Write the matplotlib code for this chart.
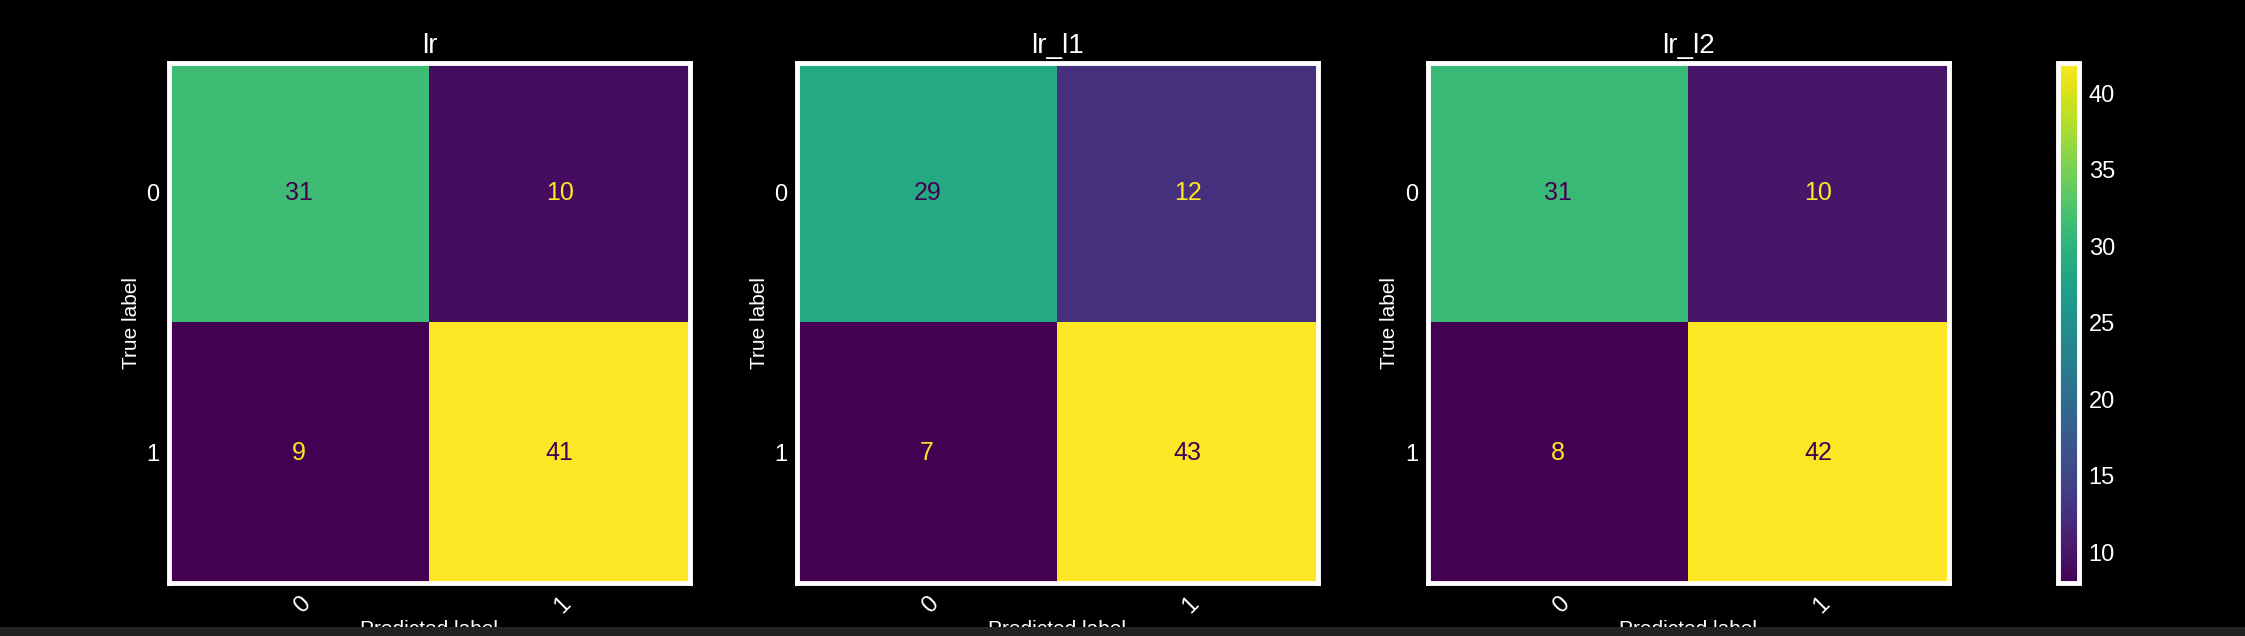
import numpy as np
import matplotlib.pyplot as plt
from matplotlib.patches import Rectangle

# confusion matrices
names = ['lr', 'lr_l1', 'lr_l2']
cm_lr = [[31, 10], [9, 41]]
cm_lr_l1 = [[29, 12], [7, 43]]
cm_lr_l2 = [[31, 10], [8, 42]]
class_labels = ['0', '1']

plt.rcParams['font.family'] = ['Liberation Sans', 'DejaVu Sans']

fig = plt.figure(figsize=(22.45, 6.36), dpi=100, facecolor='black')
cmap = plt.get_cmap('viridis')

lefts = [0.0753, 0.355, 0.636]
im = None
for left, name, cm in zip(lefts, names, [cm_lr, cm_lr_l1, cm_lr_l2]):
    cm = np.array(cm)
    ax = fig.add_axes([left, 0.0833, 0.232, 0.818])
    ax.set_facecolor('black')
    im = ax.imshow(cm, cmap=cmap, interpolation='nearest', aspect='auto')
    vmin, vmax = cm.min(), cm.max()
    thresh = (vmax + vmin) / 2.0
    for i in range(cm.shape[0]):
        for j in range(cm.shape[1]):
            color = cmap(1.0) if cm[i, j] < thresh else cmap(0)
            ax.text(j, i, str(cm[i, j]), ha='center', va='center',
                    color=color, fontsize=18)
    ax.set_xticks(range(len(class_labels)))
    ax.set_yticks(range(len(class_labels)))
    ax.set_xticklabels(class_labels, rotation=45, ha='right',
                       rotation_mode='anchor', fontsize=17)
    ax.set_yticklabels(class_labels, fontsize=17)
    ax.tick_params(color='black', labelcolor='white', length=0, pad=7)
    ax.set_xlabel('Predicted label', color='white', fontsize=15, labelpad=2)
    ax.set_ylabel('True label', color='white', fontsize=15, labelpad=4)
    ax.set_title(name, color='white', fontsize=20, pad=7)
    for sp in ax.spines.values():
        sp.set_color('white')
        sp.set_linewidth(3.5)

cax = fig.add_axes([0.9165, 0.0833, 0.0095, 0.818])
cb = fig.colorbar(im, cax=cax)
cb.outline.set_edgecolor('white')
cb.outline.set_linewidth(3.5)
cb.set_ticks([10, 15, 20, 25, 30, 35, 40])
cb.ax.tick_params(color='black', labelcolor='white', labelsize=17,
                  length=0, pad=7)

# grey strip along the bottom edge
fig.patches.append(Rectangle((0, 0), 1, 9 / 636, transform=fig.transFigure,
                             facecolor='#222222', edgecolor='none', zorder=10))

fig.savefig('out.png', dpi=100, facecolor='black')
